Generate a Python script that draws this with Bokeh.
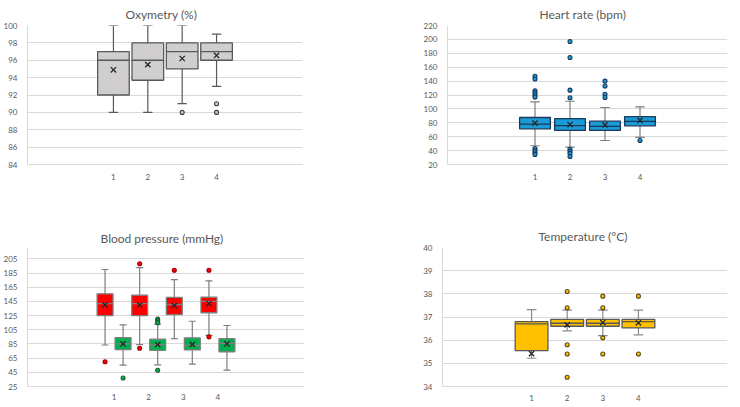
from bokeh.plotting import figure
from bokeh.models import Range1d, FixedTicker
from bokeh.layouts import column, row
from bokeh.embed import file_html
from bokeh.resources import INLINE

categories = ["1", "2", "3", "4"]

# Oxymetry (%)
oxy_lo = [90, 90, 91, 93]
oxy_q1 = [92, 93.7, 95, 96]
oxy_med = [96, 96, 97, 97]
oxy_q3 = [97, 98, 98, 98]
oxy_hi = [100, 100, 100, 99]
oxy_mean = [94.9, 95.5, 96.2, 96.55]
oxy_out_cat = ["3", "4", "4"]
oxy_out_val = [90, 91, 90]

# Heart rate (bpm)
hr_lo = [47, 45, 54.5, 59]
hr_q1 = [71.3, 69, 69, 75.6]
hr_med = [78, 76, 75, 82]
hr_q3 = [87.6, 86, 82.4, 89]
hr_hi = [110, 111, 102, 103]
hr_mean = [79.5, 77.5, 77, 83.5]
hr_out_cat = ["1"] * 10 + ["2"] * 8 + ["3"] * 4 + ["4"]
hr_out_val = [147, 143, 126, 123, 120, 117, 43, 40, 37, 34.5,
              197, 174, 127, 116, 42, 39, 36, 31.5,
              140, 133, 121, 116.5,
              54.5]

# Blood pressure (mmHg) - systolic (red) and diastolic (green)
sys_lo = [83.5, 84, 92.6, 97]
sys_q1 = [125, 125, 126.4, 129]
sys_med = [142, 142, 140.6, 145]
sys_q3 = [155.7, 153.8, 150.6, 151]
sys_hi = [190, 192.7, 175.8, 174]
sys_mean = [140, 140, 139, 142]
sys_out_cat = ["1", "2", "2", "3", "4", "4"]
sys_out_val = [60, 198, 79, 189, 189, 95]

dia_lo = [55, 55.6, 56.5, 48]
dia_q1 = [77, 76, 76.6, 74]
dia_med = [85, 83.5, 83, 86]
dia_q3 = [94, 91.7, 93.5, 92.6]
dia_hi = [112, 113, 117, 111]
dia_mean = [85, 84, 84.4, 85]
dia_out_cat = ["1", "2", "2", "2", "2"]
dia_out_val = [37, 120, 117.5, 115, 48]

# Temperature (°C)
t_lo = [35.22, 36.4, 36.2, 36.23]
t_q1 = [35.55, 36.6, 36.6, 36.53]
t_med = [36.7, 36.73, 36.73, 36.8]
t_q3 = [36.8, 36.9, 36.9, 36.9]
t_hi = [37.32, 37.3, 37.3, 37.3]
t_mean = [35.42, 36.66, 36.76, 36.75]
t_out_cat = ["2"] * 5 + ["3"] * 4 + ["4"] * 2
t_out_val = [38.1, 37.4, 35.8, 35.4, 34.4,
             37.9, 37.4, 36.1, 35.4,
             37.9, 35.4]

# ---- layout helpers (positions only) ----
N_SLOTS = 8
FIRST = 2  # categories occupy slots 3..6 of 8


def xpos(cat, shift=0.0):
    return categories.index(cat) + FIRST + 0.5 + shift


FONT = "Lato"
TXT = "#595959"
GRID = "#d9d9d9"


def make_fig(title, width, height, bl, br, bt, bb, yr, yticks, title_off, title_standoff,
             label_standoff):
    p = figure(width=width, height=height, output_backend="svg", toolbar_location=None,
               x_range=Range1d(0, N_SLOTS), y_range=Range1d(*yr),
               min_border_left=bl, min_border_right=br, min_border_top=bt, min_border_bottom=bb)
    p.outline_line_color = None
    p.background_fill_color = "white"
    p.border_fill_color = "white"
    p.title.text = title
    p.title.align = "left"
    p.title.offset = title_off
    p.title.text_font = FONT
    p.title.text_font_size = "12px"
    p.title.text_font_style = "normal"
    p.title.text_color = TXT
    p.title.standoff = title_standoff
    ticks = [xpos(c) for c in categories]
    p.xaxis.ticker = FixedTicker(ticks=ticks)
    p.xaxis.major_label_overrides = {t: c for t, c in zip(ticks, categories)}
    p.yaxis.ticker = FixedTicker(ticks=yticks)
    for ax in (p.xaxis, p.yaxis):
        ax.major_tick_line_color = None
        ax.minor_tick_line_color = None
        ax.axis_line_color = GRID
        ax.major_label_text_font = FONT
        ax.major_label_text_font_size = "8px"
        ax.major_label_text_color = TXT
    p.xaxis.major_label_standoff = label_standoff
    p.yaxis.major_label_standoff = 4
    p.xgrid.grid_line_color = None
    p.ygrid.grid_line_color = GRID
    p.ygrid.ticker = FixedTicker(ticks=yticks)
    return p


def draw_box(p, lo, q1, med, q3, hi, mean, out_cat, out_val, fill, edge, whisk,
             out_edge, shift=0.0, bw=0.9, cw=0.26):
    xs = [xpos(c, shift) for c in categories]
    p.segment(x0=xs, y0=lo, x1=xs, y1=q1, line_color=whisk, line_width=1.2)
    p.segment(x0=xs, y0=q3, x1=xs, y1=hi, line_color=whisk, line_width=1.2)
    p.segment(x0=[x - cw / 2 for x in xs], y0=hi, x1=[x + cw / 2 for x in xs], y1=hi,
              line_color=whisk, line_width=1.2)
    p.segment(x0=[x - cw / 2 for x in xs], y0=lo, x1=[x + cw / 2 for x in xs], y1=lo,
              line_color=whisk, line_width=1.2)
    p.quad(left=[x - bw / 2 for x in xs], right=[x + bw / 2 for x in xs], bottom=q1, top=q3,
           fill_color=fill, line_color=edge, line_width=1.3)
    p.segment(x0=[x - bw / 2 for x in xs], y0=med, x1=[x + bw / 2 for x in xs], y1=med,
              line_color=edge, line_width=1.3)
    p.scatter(x=xs, y=mean, marker="x", size=7.5, line_color="#262626", line_width=1.3)
    ox = [xpos(c, shift) for c in out_cat]
    p.scatter(x=ox, y=out_val, marker="circle", size=4, fill_color=fill,
              line_color=out_edge, line_width=1.1)


# Row 1
p1 = make_fig("Oxymetry (%)", 420, 218, 23, 118, 25, 54, (84, 100),
              list(range(84, 101, 2)), 98, 7, 3)
draw_box(p1, oxy_lo, oxy_q1, oxy_med, oxy_q3, oxy_hi, oxy_mean, oxy_out_cat, oxy_out_val,
         "#d0cece", "#595959", "#595959", "#404040", bw=0.92, cw=0.27)

p2 = make_fig("Heart rate (bpm)", 318, 218, 25, 11, 25, 54, (20, 220),
              list(range(20, 221, 20)), 92, 7, 3)
draw_box(p2, hr_lo, hr_q1, hr_med, hr_q3, hr_hi, hr_mean, hr_out_cat, hr_out_val,
         "#1a9bd7", "#1b3a5a", "#7f7f7f", "#17375e", bw=0.88, cw=0.27)

# Row 2
p3 = make_fig("Blood pressure (mmHg)", 420, 187, 25, 116, 25, 19, (25, 221),
              list(range(25, 206, 20)), 73, 3, 1)
draw_box(p3, sys_lo, sys_q1, sys_med, sys_q3, sys_hi, sys_mean, sys_out_cat, sys_out_val,
         "#ff0000", "#7f7f7f", "#7f7f7f", "#a00000", shift=-0.26, bw=0.46, cw=0.2)
draw_box(p3, dia_lo, dia_q1, dia_med, dia_q3, dia_hi, dia_mean, dia_out_cat, dia_out_val,
         "#00b050", "#7f7f7f", "#7f7f7f", "#1e5c36", shift=0.26, bw=0.46, cw=0.2)

p4 = make_fig("Temperature (°C)", 318, 187, 20, 11, 29, 19, (34, 40),
              list(range(34, 41, 1)), 96, 7, 2)
draw_box(p4, t_lo, t_q1, t_med, t_q3, t_hi, t_mean, t_out_cat, t_out_val,
         "#ffc000", "#595959", "#8c8c8c", "#5a4a1a", bw=0.92, cw=0.27)

layout = column(row(p1, p2), row(p3, p4))
open("out.html", "w").write(file_html(layout, INLINE))
